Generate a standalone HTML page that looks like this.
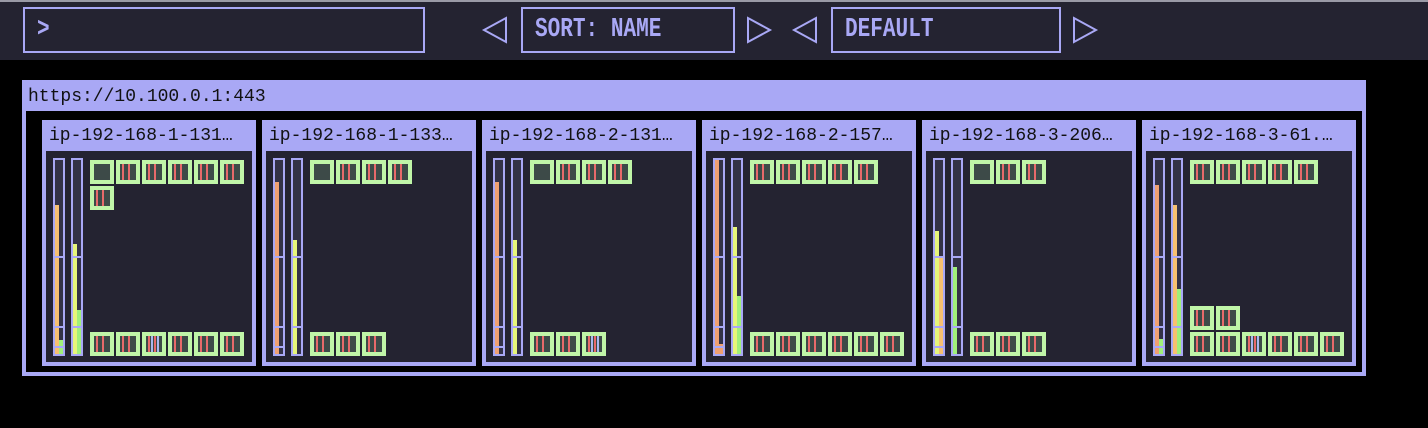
<!DOCTYPE html>
<html><head><meta charset="utf-8"><style>
*{margin:0;padding:0;box-sizing:border-box}
body{width:1428px;height:428px;background:#000;position:relative;overflow:hidden;font-family:"Liberation Mono",monospace}
.abs{position:absolute}
#top{left:0;top:0;width:1428px;height:60px;background:#242331;border-top:2px solid #9a9aa6}
.box{position:absolute;border:2px solid #a9a8f5;color:#a9a8f5}
.txt{position:absolute;font-size:27px;font-weight:bold;transform:scaleX(0.78);transform-origin:left;top:6px}
.card{position:absolute;top:120px;width:214px;height:246px;background:#a9a8f5}
.card .t{position:absolute;left:7px;top:6px;font-size:18px;color:#111}
.card .in{position:absolute;left:4px;top:31px;width:206px;height:211px;background:#242331}
.bar{position:absolute;top:7px;width:12px;height:198px;border:2px solid #a9a8f5;background:#333247}
.f{position:absolute;bottom:0;width:4px}
.tick{position:absolute;left:0;width:8px;height:2px;background:#a9a8f5}
.pod{position:absolute;width:24px;height:24px;background:#3d4a48;border:4px solid #c0f5a8}
.s{position:absolute;top:0;width:2px;height:16px}
</style></head><body>
<div id="top" class="abs"></div>
<div class="box" style="left:23px;top:7px;width:402px;height:46px"><span class="txt" style="left:12px">&gt;</span></div>
<svg class="abs" style="left:0;top:0" width="1428" height="60">
<g fill="none" stroke="#a9a8f5" stroke-width="2">
<polygon points="506,18 506,42 484,30"/>
<polygon points="748,18 748,42 770,30"/>
<polygon points="816,18 816,42 794,30"/>
<polygon points="1074,18 1074,42 1096,30"/>
</g></svg>
<div class="box" style="left:521px;top:7px;width:214px;height:46px"><span class="txt" style="left:12px">SORT: NAME</span></div>
<div class="box" style="left:831px;top:7px;width:230px;height:46px"><span class="txt" style="left:12px">DEFAULT</span></div>

<div class="abs" style="left:22px;top:80px;width:1344px;height:296px;background:#a9a8f5"></div>
<div class="abs" style="left:28px;top:87px;font-size:18px;color:#111">https://10.100.0.1:443</div>
<div class="abs" style="left:26px;top:111px;width:1336px;height:261px;background:#000"></div>
<div id="cards"></div>
<script>
var cards=[
{n:"ip-192-168-1-131…",top:[6,1],bot:[6],b1:[["#f7c070",149],["#a0f07a",14]],b2:[["#e6f57a",110],["#a0f07a",44]]},
{n:"ip-192-168-1-133…",top:[4],bot:[3],b1:[["#f0a070",172],null],b2:[["#e6f57a",114],null]},
{n:"ip-192-168-2-131…",top:[4],bot:[3],b1:[["#f0a070",172],null],b2:[["#e6f57a",114],null]},
{n:"ip-192-168-2-157…",top:[5],bot:[6],b1:[["#f0a070",194],["#f0a070",10]],b2:[["#e6f57a",127],["#a0f07a",58]]},
{n:"ip-192-168-3-206…",top:[3],bot:[3],b1:[["#e6f57a",123],["#f7c070",97]],b2:[["#a0f07a",87],null]},
{n:"ip-192-168-3-61.…",top:[5],bot:[6],mid:2,b1:[["#f0a070",169],["#a0f07a",15]],b2:[["#f7c070",149],["#a0f07a",65]]}
];
var h="";
cards.forEach(function(c,i){
 var L=42+i*220;
 h+='<div class="card" style="left:'+L+'px"><div class="t">'+c.n+'</div><div class="in">';
 [c.b1,c.b2].forEach(function(b,j){
  h+='<div class="bar" style="left:'+(7+j*18)+'px">';
  if(b[0])h+='<div class="f" style="left:0;height:'+b[0][1]+'px;background:'+b[0][0]+'"></div>';
  if(b[1])h+='<div class="f" style="left:4px;height:'+b[1][1]+'px;background:'+b[1][0]+'"></div>';
  h+='<div class="tick" style="top:96px"></div><div class="tick" style="top:166px"></div>';
  if(j==0)h+='<div class="tick" style="top:186px"></div>';
  h+='</div>';
 });
 function pod(x,y,k,r){
  var s='<div class="pod" style="left:'+x+'px;top:'+y+'px">';
  if(!(k==0&&r==0&&(i==0||i==1||i==2||i==4))){s+='<div class="s" style="left:2px;background:#e86a6a"></div><div class="s" style="left:8px;background:#e86a6a"></div>';}
  if(r==1&&k==2&&(i==0||i==2||i==5))s+='<div class="s" style="left:5px;background:#a9b8f0"></div><div class="s" style="left:11px;background:#a9b8f0"></div>';
  return s+'</div>';
 }
 var y=9;
 c.top.forEach(function(n,ri){for(var k=0;k<n;k++)h+=pod(44+k*26,y,k,ri==0?0:2);y+=26;});
 for(var k=0;k<c.bot[0];k++)h+=pod(44+k*26,181,k,1);
 if(c.mid)for(var k=0;k<c.mid;k++)h+=pod(44+k*26,155,k,2);
 h+='</div></div>';
});
document.getElementById("cards").innerHTML=h;
</script>
</body></html>
